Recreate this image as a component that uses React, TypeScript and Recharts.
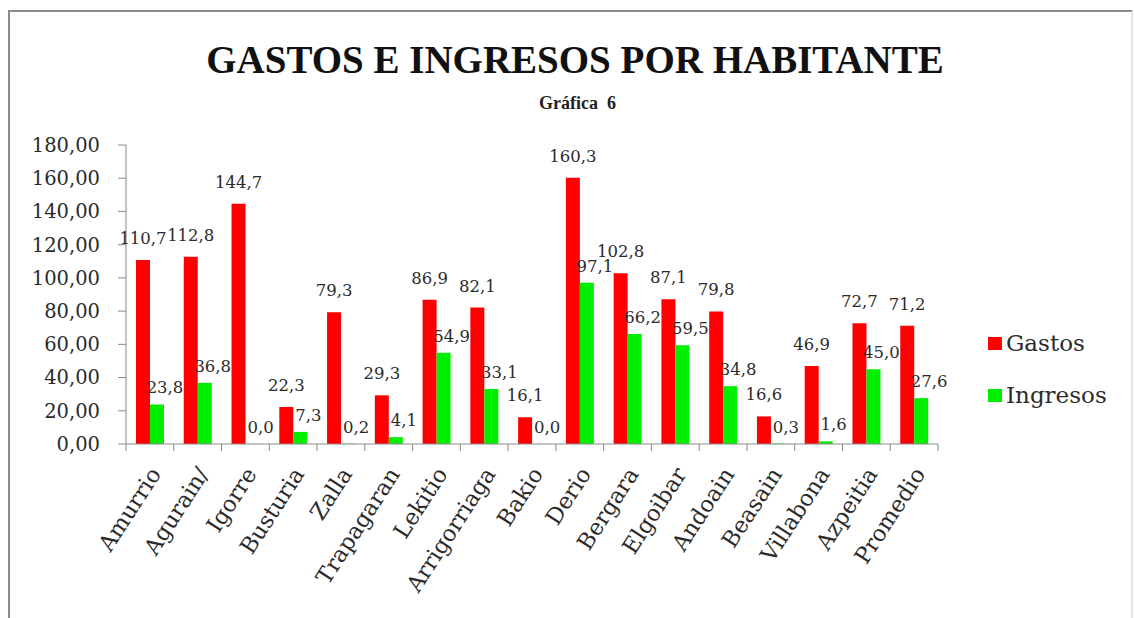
import React from 'react';
import { BarChart, Bar, XAxis, YAxis, Legend, LabelList } from 'recharts';

const municipios = [
  'Amurrio', 'Agurain/', 'Igorre', 'Busturia', 'Zalla', 'Trapagaran', 'Lekitio', 'Arrigorriaga',
  'Bakio', 'Derio', 'Bergara', 'Elgoibar', 'Andoain', 'Beasain', 'Villabona', 'Azpeitia', 'Promedio',
];
const gastos = [110.7, 112.8, 144.7, 22.3, 79.3, 29.3, 86.9, 82.1, 16.1, 160.3, 102.8, 87.1, 79.8, 16.6, 46.9, 72.7, 71.2];
const ingresos = [23.8, 36.8, 0.0, 7.3, 0.2, 4.1, 54.9, 33.1, 0.0, 97.1, 66.2, 59.5, 34.8, 0.3, 1.6, 45.0, 27.6];
const yTicks = [0, 20, 40, 60, 80, 100, 120, 140, 160, 180];

const data = municipios.map((name, i) => ({ name, Gastos: gastos[i], Ingresos: ingresos[i] }));

const W = 1134;
const H = 618;
const MARGIN = { top: 145, right: 196, bottom: 24, left: 16 };
const Y_AXIS_W = 110;
const STEP = (W - MARGIN.left - MARGIN.right - Y_AXIS_W) / municipios.length;
const AXIS = '#8a8a8a';
const TEXT = '#2b2b2b';
const FONT = '"DejaVu Serif", serif';

const fmt1 = (v: number) => v.toFixed(1).replace('.', ',');

const XTick = (props: any) => {
  const { x, y, payload, index } = props;
  const half = STEP / 2;
  return (
    <g transform={`translate(${x},${y})`}>
      <line x1={-half} y1={0} x2={-half} y2={7} stroke={AXIS} />
      {index === municipios.length - 1 && <line x1={half} y1={0} x2={half} y2={7} stroke={AXIS} />}
      <text
        x={12}
        y={30}
        textAnchor="end"
        transform="rotate(-57, 12, 30)"
        fontFamily={FONT}
        fontSize={22.5}
        fill={TEXT}
      >
        {payload.value}
      </text>
    </g>
  );
};

const gastosLabel = (p: any) => (
  <text x={p.x + p.width / 2} y={p.y - 16} textAnchor="middle" fontFamily={FONT} fontSize={16.5} fill={TEXT}>
    {fmt1(p.value)}
  </text>
);

const ingresosLabel = (p: any) => (
  <text x={p.x + p.width / 2 + 8} y={p.y - 11} textAnchor="middle" fontFamily={FONT} fontSize={16.5} fill={TEXT}>
    {fmt1(p.value)}
  </text>
);

// zero values still need a (invisible) bar so their "0,0" label is drawn
const keepZero = (v: any) => (v === 0 ? 0.01 : 0);

const renderLegend = (props: any) => (
  <div>
    {(props.payload || []).map((item: any, i: number) => (
      <div
        key={item.value}
        style={{ display: 'flex', alignItems: 'center', height: 26, marginTop: i === 0 ? 0 : 26 }}
      >
        <span style={{ width: 14, height: 13, background: item.color, display: 'inline-block', marginRight: 4 }} />
        <span style={{ fontFamily: FONT, fontSize: 23, color: TEXT, lineHeight: '26px' }}>{item.value}</span>
      </div>
    ))}
  </div>
);

export default function App() {
  return (
    <div style={{ position: 'absolute', left: 0, top: 0, width: W, height: H, overflow: 'hidden', background: '#fff' }}>
      <div
        style={{
          position: 'absolute', left: 8, top: 10, width: 1121, height: 620,
          borderTop: '2px solid #8c8c8c', borderLeft: '2px solid #8c8c8c', borderRight: '2px solid #e4e4e4',
        }}
      />
      <div
        style={{
          position: 'absolute', left: 0, top: 41, width: 1150, textAlign: 'center',
          fontFamily: '"Liberation Serif", serif', fontWeight: 'bold', fontSize: 39, lineHeight: '38px', color: '#111',
        }}
      >
        GASTOS E INGRESOS POR HABITANTE
      </div>
      <div
        style={{
          position: 'absolute', left: 0, top: 94, width: 1155, textAlign: 'center', whiteSpace: 'pre',
          fontFamily: '"Liberation Serif", serif', fontWeight: 'bold', fontSize: 18, lineHeight: '18px', color: '#222',
        }}
      >
        Gráfica  6
      </div>
      <div style={{ position: 'absolute', left: 0, top: 0 }}>
        <BarChart width={W} height={H} data={data} margin={MARGIN} barGap={0} barSize={14}>
          <XAxis
            dataKey="name"
            interval={0}
            height={150}
            tickSize={0}
            tickMargin={0}
            tickLine={false}
            stroke={AXIS}
            tick={<XTick />}
          />
          <YAxis
            width={Y_AXIS_W}
            domain={[0, 180]}
            ticks={yTicks}
            tickSize={8}
            tickMargin={18}
            stroke={AXIS}
            tickFormatter={(v: number) => v.toFixed(2).replace('.', ',')}
            tick={{ fontFamily: FONT, fontSize: 19.5, fill: TEXT }}
          />
          <Legend
            layout="horizontal"
            verticalAlign="middle"
            align="center"
            wrapperStyle={{ left: 988, top: 330, width: 146 }}
            content={renderLegend}
          />
          <Bar dataKey="Gastos" fill="#ff0000" isAnimationActive={false}>
            <LabelList dataKey="Gastos" content={gastosLabel} />
          </Bar>
          <Bar dataKey="Ingresos" fill="#00ee00" minPointSize={keepZero} isAnimationActive={false}>
            <LabelList dataKey="Ingresos" content={ingresosLabel} />
          </Bar>
        </BarChart>
      </div>
    </div>
  );
}
